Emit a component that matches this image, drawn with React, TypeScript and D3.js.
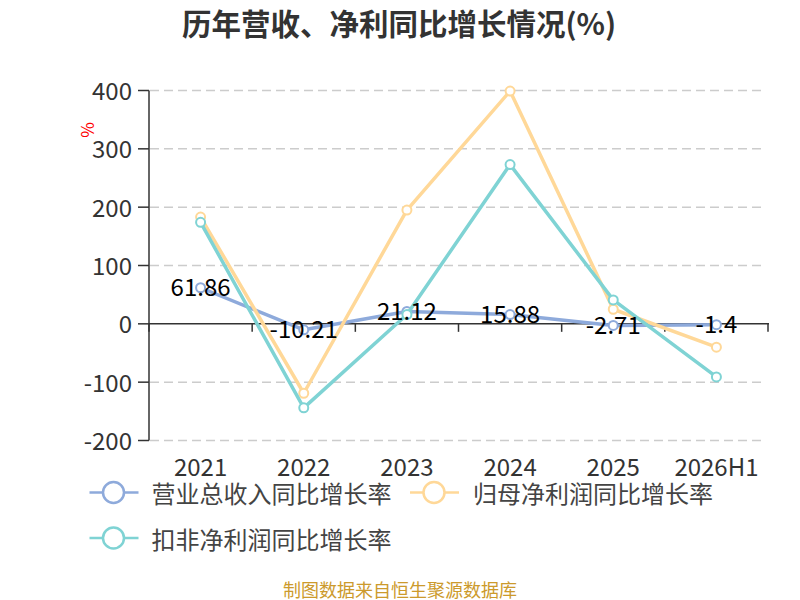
import React, { useEffect, useRef } from 'react';
import * as d3 from 'd3';

const categories = ['2021', '2022', '2023', '2024', '2025', '2026H1'];
const revenueGrowth = [61.86, -10.21, 21.12, 15.88, -2.71, -1.4];
const netProfitGrowth = [183, -119, 195, 399, 25, -40];
const deductedProfitGrowth = [174, -144, 16, 273, 41, -91];
const yTicks = [-200, -100, 0, 100, 200, 300, 400];
const seriesNames = ['营业总收入同比增长率', '归母净利润同比增长率', '扣非净利润同比增长率'];
const seriesColors = ['#8eaadb', '#ffd898', '#7fd3d4'];

const FONT = '"Noto Sans CJK SC", "Noto Sans", sans-serif';

const App: React.FC = () => {
  const svgRef = useRef<SVGSVGElement | null>(null);

  useEffect(() => {
    if (!svgRef.current) return;
    const svg = d3.select(svgRef.current);
    svg.selectAll('*').remove();

    const left = 149;
    const right = 768;
    const top = 90.5;
    const bottom = 440.5;

    const x = d3.scaleBand<string>().domain(categories).range([left, right]).padding(0);
    const y = d3.scaleLinear().domain([-200, 400]).range([bottom, top]);
    const cx = (c: string) => (x(c) as number) + x.bandwidth() / 2;

    // title
    svg.append('text')
      .attr('x', 399)
      .attr('y', 22)
      .attr('text-anchor', 'middle')
      .attr('dominant-baseline', 'central')
      .attr('font-size', 29.5)
      .attr('font-weight', 'bold')
      .attr('fill', '#333')
      .text('历年营收、净利同比增长情况(%)');

    // grid
    svg.append('g')
      .selectAll('line')
      .data(yTicks.filter((t) => t !== 0))
      .enter()
      .append('line')
      .attr('x1', left + 1)
      .attr('x2', right - 2)
      .attr('y1', (d) => y(d))
      .attr('y2', (d) => y(d))
      .attr('stroke', '#cccccc')
      .attr('stroke-width', 1.5)
      .attr('stroke-dasharray', '9,5');

    // y axis
    const yAxis = svg.append('g');
    yAxis.append('line')
      .attr('x1', left).attr('x2', left)
      .attr('y1', top).attr('y2', bottom)
      .attr('stroke', '#333').attr('stroke-width', 1.5);
    yAxis.selectAll('line.tick')
      .data(yTicks)
      .enter()
      .append('line')
      .attr('class', 'tick')
      .attr('x1', left - 11).attr('x2', left)
      .attr('y1', (d) => y(d)).attr('y2', (d) => y(d))
      .attr('stroke', '#333').attr('stroke-width', 1.5);
    yAxis.selectAll('text')
      .data(yTicks)
      .enter()
      .append('text')
      .attr('x', left - 17)
      .attr('y', (d) => y(d) - 1)
      .attr('text-anchor', 'end')
      .attr('dominant-baseline', 'central')
      .attr('font-size', 24)
      .attr('fill', '#333')
      .text((d) => String(d));

    // unit label
    svg.append('text')
      .attr('transform', 'translate(86,130) rotate(-90)')
      .attr('text-anchor', 'middle')
      .attr('dominant-baseline', 'central')
      .attr('font-size', 17)
      .attr('fill', '#ff0000')
      .text('%');

    // x axis on zero line
    const zeroY = y(0);
    const xAxis = svg.append('g');
    xAxis.append('line')
      .attr('x1', left).attr('x2', right + 1)
      .attr('y1', zeroY).attr('y2', zeroY)
      .attr('stroke', '#333').attr('stroke-width', 1.5);
    const boundaries = categories.map((c) => (x(c) as number) + x.bandwidth()).concat([left]);
    xAxis.selectAll('line.tick')
      .data(boundaries)
      .enter()
      .append('line')
      .attr('class', 'tick')
      .attr('x1', (d) => d).attr('x2', (d) => d)
      .attr('y1', zeroY).attr('y2', zeroY + 8)
      .attr('stroke', '#333').attr('stroke-width', 1.5);
    xAxis.selectAll('text')
      .data(categories)
      .enter()
      .append('text')
      .attr('x', (d) => cx(d))
      .attr('y', 465)
      .attr('text-anchor', 'middle')
      .attr('dominant-baseline', 'central')
      .attr('font-size', 24)
      .attr('fill', '#333')
      .text((d) => d);

    // lines
    const allSeries = [revenueGrowth, netProfitGrowth, deductedProfitGrowth];
    const line = d3.line<number>()
      .x((_, i) => cx(categories[i]))
      .y((d) => y(d));

    allSeries.forEach((values, si) => {
      const g = svg.append('g');
      g.append('path')
        .attr('d', line(values) as string)
        .attr('fill', 'none')
        .attr('stroke', seriesColors[si])
        .attr('stroke-width', 3.5)
        .attr('stroke-linejoin', 'round');
      g.selectAll('circle')
        .data(values)
        .enter()
        .append('circle')
        .attr('cx', (_, i) => cx(categories[i]))
        .attr('cy', (d) => y(d))
        .attr('r', 4.5)
        .attr('fill', '#fff')
        .attr('stroke', seriesColors[si])
        .attr('stroke-width', 2);
    });

    // value labels for revenue
    svg.append('g')
      .selectAll('text')
      .data(revenueGrowth)
      .enter()
      .append('text')
      .attr('x', (_, i) => cx(categories[i]))
      .attr('y', (d) => y(d) - 2)
      .attr('text-anchor', 'middle')
      .attr('dominant-baseline', 'central')
      .attr('font-size', 24)
      .attr('fill', '#000')
      .text((d) => String(d));

    // legend
    const legendPos = [
      { sx: 113.5, sy: 492.5, tx: 151.5 },
      { sx: 434, sy: 492.5, tx: 473 },
      { sx: 113.5, sy: 538, tx: 151.5 },
    ];
    seriesNames.forEach((name, i) => {
      const p = legendPos[i];
      const g = svg.append('g');
      g.append('line')
        .attr('x1', p.sx - 24).attr('x2', p.sx + 25)
        .attr('y1', p.sy).attr('y2', p.sy)
        .attr('stroke', seriesColors[i]).attr('stroke-width', 2.5);
      g.append('circle')
        .attr('cx', p.sx).attr('cy', p.sy).attr('r', 10.5)
        .attr('fill', '#fff')
        .attr('stroke', seriesColors[i]).attr('stroke-width', 2.5);
      g.append('text')
        .attr('x', p.tx).attr('y', p.sy)
        .attr('dominant-baseline', 'central')
        .attr('font-size', 24)
        .attr('fill', '#444')
        .text(name);
    });

    // footer
    svg.append('text')
      .attr('x', 400)
      .attr('y', 589)
      .attr('text-anchor', 'middle')
      .attr('dominant-baseline', 'central')
      .attr('font-size', 18)
      .attr('fill', '#cc9a2c')
      .text('制图数据来自恒生聚源数据库');
  }, []);

  return (
    <svg
      ref={svgRef}
      width={800}
      height={600}
      style={{ position: 'absolute', left: 0, top: 0, background: '#fff', fontFamily: FONT }}
    />
  );
};

export default App;
